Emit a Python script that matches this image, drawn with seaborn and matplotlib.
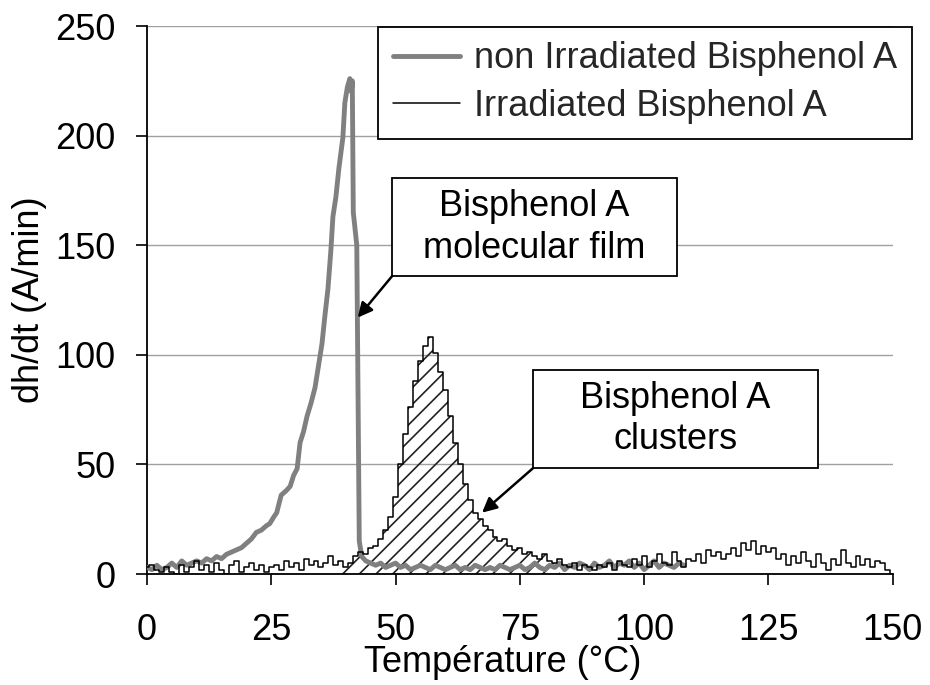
import numpy as np
import pandas as pd
import matplotlib
matplotlib.use("Agg")
import matplotlib.pyplot as plt
import seaborn as sns
from matplotlib.patches import Rectangle

# ---------------- data ----------------
temp_gray = [0, 1, 2, 3, 4, 5, 6, 7, 8, 9, 10, 11, 12, 13, 14, 15, 16, 17, 18, 19,
             20, 21, 22, 23, 24, 24.7, 25.5, 26.1, 27, 28, 28.8, 29.5, 30.2, 30.8,
             31.5, 32.2, 33, 33.8, 34.5, 35.2, 35.8, 36.4, 37, 37.4, 38, 38.6, 39.4,
             39.8, 40.3, 40.8, 41.1, 41.3, 41.5, 42.2, 42.7, 43.2,
             44, 45, 46, 47, 48, 49, 50, 51, 52, 53, 54, 55, 56, 57, 58, 59, 60,
             61, 62, 63, 64, 65, 66, 67, 68, 69, 70, 71, 72, 73, 74, 75, 76, 77,
             78, 79, 80, 81, 82, 83, 84, 85, 86, 87, 88, 89, 90, 91, 92, 93, 94,
             95, 96, 97, 98, 99, 100, 101, 102, 103, 104, 105, 106, 107, 108]
non_irradiated = [3, 2, 4, 2, 3, 5, 3, 6, 4, 5, 6, 5, 7, 6, 8, 7, 9, 10, 11, 12,
                  14, 16, 19, 20, 22, 23, 26, 28, 36, 38, 40, 45, 48, 60,
                  65, 72, 78, 85, 95, 105, 118, 130, 148, 163, 172, 185, 199,
                  215, 222, 226, 220, 225, 165, 150, 15, 8,
                  6, 5, 4, 5, 3, 4, 5, 3, 4, 2, 3, 4, 3, 2, 4, 3, 2,
                  3, 4, 2, 3, 2, 4, 3, 2, 3, 2, 4, 3, 2, 3, 4, 2, 3,
                  5, 3, 2, 4, 3, 5, 2, 4, 3, 5, 4, 2, 5, 3, 4, 6, 3,
                  5, 4, 6, 3, 5, 2, 4, 6, 3, 5, 4, 3, 5, 4]

temp_black = list(range(0, 151))
irradiated = [3, 4, 2, 1, 3, 1, 0, 4, 1, 3, 6, 2, 4, 1, 5, 2, 0, 4, 6, 1,
              3, 5, 2, 4, 1, 3, 4, 2, 6, 3, 5, 2, 7, 4, 6, 3, 5, 8, 4, 6,
              3, 5, 8, 10, 9, 12, 13, 16, 20, 26, 35, 50, 64, 76, 88, 97, 104, 108, 101, 92,
              84, 72, 60, 50, 41, 34, 28, 25, 22, 20, 17, 15, 16, 13, 11, 12, 9, 10, 8, 7,
              9, 6, 5, 7, 4, 3, 5, 2, 4, 3, 2, 4, 3, 5, 2, 6, 4, 3, 7, 4,
              8, 3, 6, 9, 5, 4, 10, 6, 3, 7, 6, 9, 5, 11, 8, 10, 7, 9, 12, 8,
              14, 11, 15, 9, 13, 10, 12, 7, 9, 4, 8, 5, 10, 6, 3, 9, 5, 2, 7, 4,
              11, 5, 3, 8, 4, 7, 3, 6, 5, 2, 0]

x_ticks = [0, 25, 50, 75, 100, 125, 150]
y_ticks = [0, 50, 100, 150, 200, 250]
label_gray = "non Irradiated Bisphenol A"
label_black = "Irradiated Bisphenol A"
box1_text = "Bisphenol A\nmolecular film"
box2_text = "Bisphenol A\nclusters"

df_gray = pd.DataFrame({"T": temp_gray, "v": non_irradiated})
df_black = pd.DataFrame({"T": temp_black, "v": irradiated})

# ---------------- style ----------------
sns.set_theme(style="white")
plt.rcParams["font.family"] = ["Liberation Sans", "DejaVu Sans"]
plt.rcParams["hatch.linewidth"] = 1.2
FS = 26

fig = plt.figure(figsize=(9.30, 6.85), dpi=100)
ax = fig.add_axes([0.158, 0.162, 0.802, 0.800])

ax.yaxis.grid(True, color="#a0a0a0", linewidth=1.0)
ax.set_axisbelow(True)

sns.lineplot(data=df_gray, x="T", y="v", ax=ax, color="#808080", linewidth=3.5,
             estimator=None, errorbar=None, label=label_gray, zorder=3)
sns.lineplot(data=df_black, x="T", y="v", ax=ax, color="black", linewidth=1.1,
             drawstyle="steps-mid", estimator=None, errorbar=None, label=label_black,
             zorder=4)

xb = np.array(temp_black)
yb = np.array(irradiated)
mask = (xb >= 38) & (xb <= 83)
ax.fill_between(xb, yb, 0, where=mask, step="mid", hatch="//", facecolor="none",
                edgecolor="#222222", linewidth=0, zorder=2)

ax.set_xlim(0, 150)
ax.set_ylim(0, 250)
ax.set_xticks(x_ticks)
ax.set_yticks(y_ticks)
ax.tick_params(axis="both", direction="out", length=8, width=1.2, color="black",
               labelsize=FS, labelcolor="black", left=True, bottom=True)
ax.tick_params(axis="x", pad=20)
ax.tick_params(axis="y", pad=14.5)

for s in ["top", "right"]:
    ax.spines[s].set_visible(False)
for s in ["left", "bottom"]:
    ax.spines[s].set_color("black")
    ax.spines[s].set_linewidth(1.3)

ax.set_xlabel("Température (°C)", fontsize=FS, color="black")
ax.set_ylabel("dh/dt (A/min)", fontsize=FS, color="black")
ax.xaxis.set_label_coords(0.477, -0.129)
ax.yaxis.set_label_coords(-0.134, 0.5)

# annotation boxes
for (x0, x1, y0, y1, txt, start, end) in [
        (49.3, 106.6, 135.9, 180.5, box1_text, (49.3, 135.9), (42.4, 117)),
        (77.6, 134.9, 48.2, 93.2, box2_text, (77.6, 48.2), (67.4, 28))]:
    ax.add_patch(Rectangle((x0, y0), x1 - x0, y1 - y0, facecolor="white",
                           edgecolor="black", linewidth=1.3, zorder=6))
    ax.text((x0 + x1) / 2, (y0 + y1) / 2, txt, ha="center", va="center",
            fontsize=FS, linespacing=1.25, color="black", zorder=7)
    ax.annotate("", xy=end, xytext=start,
                arrowprops=dict(arrowstyle="-|>", color="black", lw=1.8,
                                mutation_scale=22, shrinkA=0, shrinkB=0),
                zorder=7)

leg = ax.legend(loc="upper right", bbox_to_anchor=(912 / 930, (685 - 27) / 685),
                bbox_transform=fig.transFigure, borderaxespad=0, fontsize=FS,
                frameon=True, fancybox=False, framealpha=1, edgecolor="black",
                handlelength=1.86, handletextpad=0.4, labelspacing=0.35,
                borderpad=0.4)
leg.get_frame().set_linewidth(1.3)
leg.set_zorder(8)

fig.savefig("out.png", dpi=100)
